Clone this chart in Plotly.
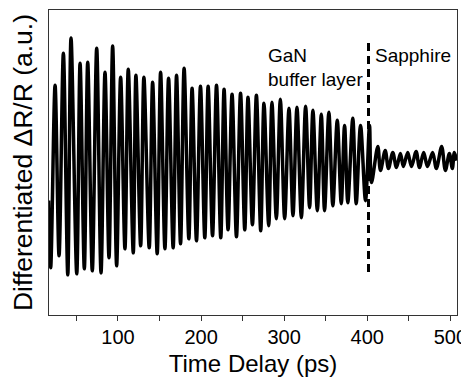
import plotly.graph_objects as go

# Extrema of the differentiated dR/R trace (time in ps, signal in a.u.)
time_ps = [16.5, 19.0, 24.3, 29.1, 34.3, 39.6, 43.5, 50.4, 54.4, 59.5, 63.6, 69.1, 74.4, 79.6,
           84.4, 89.2, 93.6, 98.4, 103.2, 108.4, 112.4, 118.4, 121.6, 127.3, 131.2, 137.6,
           141.7, 147.2, 151.3, 156.5, 160.9, 166.4, 170.5, 175.3, 179.6, 185.3, 189.2, 194.5,
           199.3, 204.5, 208.5, 213.8, 218.6, 223.7, 227.7, 232.5, 237.3, 242.6, 247.5, 252.6,
           256.5, 261.8, 266.6, 271.8, 275.7, 281.4, 285.3, 290.6, 295.4, 300.6, 305.8, 310.6,
           315.4, 320.7, 325.8, 330.6, 334.6, 339.9, 344.7, 348.6, 353.8, 358.6, 363.9, 368.7,
           372.7, 376.6, 382.6, 386.7, 391.9, 397.9, 402.7, 405.1, 412.7, 415.9, 421.6, 425.5,
           430.7, 435.1, 439.9, 443.5, 448.7, 453.2, 458.8, 462.8, 467.9, 472.4, 478.7, 483.2,
           489.5, 494.0, 498.8, 502.4, 504.8, 507.8]
signal = [-4.0, -10.7, 7.5, -9.5, 10.7, -11.4, 12.2, -11.3, 9.7, -10.8, 9.8, -11.0, 11.2, -11.2,
          8.8, -9.7, 11.4, -10.5, 8.3, -8.8, 9.1, -9.2, 8.5, -8.5, 8.3, -8.7,
          7.8, -9.3, 8.8, -8.8, 8.2, -8.7, 8.5, -8.3, 9.2, -7.8, 7.2, -8.0,
          7.4, -7.7, 7.4, -7.5, 7.5, -7.7, 7.1, -6.9, 6.6, -7.6, 6.7, -6.9,
          6.3, -6.4, 6.5, -7.0, 5.7, -6.5, 5.8, -5.8, 6.1, -5.8, 5.2, -5.5,
          5.3, -5.7, 5.4, -4.7, 5.0, -5.0, 4.6, -5.0, 4.8, -4.5, 4.0, -4.3,
          3.5, -4.2, 4.2, -4.3, 3.5, -4.0, 3.5, -2.2, 1.4, -1.0, 1.0, -0.8,
          0.8, -0.7, 0.7, -0.6, 0.8, -0.6, 0.9, -0.7, 0.8, -0.6, 0.8, -0.8,
          1.4, -1.0, 0.7, -0.8, 0.8, 0.0]

# Interface marker between GaN buffer layer and sapphire (drawn top to bottom)
boundary_ps = 401.5
boundary_span = [11.7, -11.3]

x_range = [17, 508]
y_range = [-15.4, 15.0]

FONT = "Liberation Sans, Arial, sans-serif"

fig = go.Figure()
fig.add_trace(go.Scatter(x=time_ps, y=signal, mode="lines",
                         line=dict(color="black", width=3.5, shape="spline", smoothing=0.9),
                         hoverinfo="skip", showlegend=False))
fig.add_trace(go.Scatter(x=[boundary_ps, boundary_ps], y=boundary_span, mode="lines",
                         line=dict(color="black", width=3, dash="8px,5px"),
                         hoverinfo="skip", showlegend=False))

fig.add_annotation(x=278, y=10.5, xref="x", yref="y", text="GaN", showarrow=False,
                   xanchor="left", yanchor="middle", font=dict(size=19, color="black", family=FONT))
fig.add_annotation(x=278, y=8.1, xref="x", yref="y", text="buffer layer", showarrow=False,
                   xanchor="left", yanchor="middle", font=dict(size=19, color="black", family=FONT))
fig.add_annotation(x=407, y=10.5, xref="x", yref="y", text="Sapphire", showarrow=False,
                   xanchor="left", yanchor="middle", font=dict(size=19, color="black", family=FONT))

# The page body has an 8px margin, so the figure is sized to fit the 469x380 window
fig.update_layout(
    width=461, height=372,
    margin=dict(l=41, r=11.5, t=2, b=65.3),
    paper_bgcolor="white", plot_bgcolor="white",
    font=dict(family=FONT, color="black"),
)
fig.update_xaxes(range=x_range, showline=True, linecolor="#333", linewidth=1, mirror=True,
                 showgrid=False, zeroline=False,
                 ticks="outside", ticklen=5, tickcolor="#333", dtick=100, tick0=0,
                 minor=dict(ticks="outside", ticklen=5, dtick=50, tickcolor="#333"),
                 tickfont=dict(size=20, family=FONT), ticklabelstandoff=-1,
                 title=dict(text="Time Delay (ps)", font=dict(size=24, family=FONT), standoff=8))
fig.update_yaxes(range=y_range, showline=True, linecolor="#333", linewidth=1, mirror=True,
                 showgrid=False, zeroline=False, showticklabels=False, ticks="",
                 title=dict(text="Differentiated ΔR/R (a.u.)", font=dict(size=26.5, family=FONT), standoff=10))

fig.write_html("out.html")
